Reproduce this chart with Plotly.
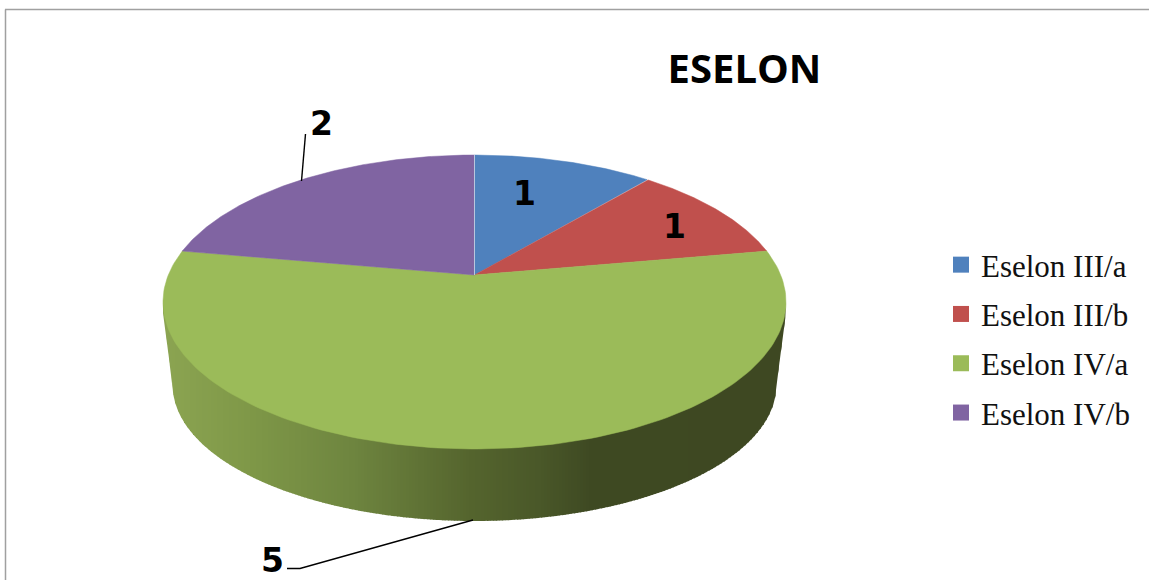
import math
import numpy as np
import plotly.graph_objects as go

# ---- data ----
categories = ["Eselon III/a", "Eselon III/b", "Eselon IV/a", "Eselon IV/b"]
values = [1, 1, 5, 2]
colors = ["#4F81BD", "#C0504D", "#9BBB59", "#8064A2"]
title_text = "ESELON"

# ---- view of the tilted disc (pixel-scaled axes) ----
W, H = 1149, 580
CX, APEX_Y, NEAR, TILT, C = 474.5, 275.0, 91.5, 0.1837, 306.2
BOT_CY, BOT_RY, BOT_RX = 385.0, 136.0, 302.0
TOP_CY, TOP_RY, TOP_RX = 302.0, 147.0, 311.5


def project(theta_deg):
    t = np.radians(theta_deg)
    u, v = np.sin(t), np.cos(t)
    w = 1 + TILT * v
    return CX + C * u / w, (APEX_Y - NEAR * v) / w


def wall_colour(x):
    xs = [163, 250, 350, 470, 540, 590, 786]
    rgb = [(140, 165, 82), (127, 152, 72), (111, 134, 64), (85, 101, 46),
           (74, 88, 41), (63, 74, 35), (62, 72, 34)]
    return "rgb(%d,%d,%d)" % tuple(np.interp(x, xs, [c[i] for c in rgb]) for i in range(3))


def rim_top(x):
    return TOP_CY + TOP_RY * math.sqrt(max(0, 1 - ((x - CX) / TOP_RX) ** 2))


def rim_bottom(x):
    d = abs(x - CX)
    if d <= BOT_RX:
        lo = BOT_CY + BOT_RY * math.sqrt(max(0, 1 - (d / BOT_RX) ** 2))
    else:
        # straight silhouette between the two discs
        f = (d - BOT_RX) / (TOP_RX - BOT_RX)
        lo = BOT_CY + (313 - BOT_CY) * f
    return lo


fig = go.Figure()

# side wall, shaded strip by strip
step = 3
for x0 in np.arange(CX - TOP_RX, CX + TOP_RX, step):
    x1 = min(x0 + step + 0.6, CX + TOP_RX)
    xs_ = np.linspace(x0, x1, 4)
    px = list(xs_) + list(xs_[::-1])
    py = [rim_top(a) - 4 for a in xs_] + [rim_bottom(a) for a in xs_[::-1]]
    fig.add_trace(go.Scatter(x=px, y=py, mode="lines", fill="toself",
                             fillcolor=wall_colour(x0 + step / 2),
                             line=dict(width=0), hoverinfo="skip", showlegend=False))

# top face slices
total = sum(values)
start = 0.0
for name, val, col in zip(categories, values, colors):
    end = start + 360.0 * val / total
    ang = np.linspace(start, end, 160)
    ex, ey = project(ang)
    fig.add_trace(go.Scatter(x=[CX] + list(ex) + [CX], y=[APEX_Y] + list(ey) + [APEX_Y],
                             mode="lines", fill="toself", fillcolor=col,
                             line=dict(color=col, width=0.5), name=name,
                             hovertemplate=f"{name}: {val}<extra></extra>", showlegend=False))
    start = end

# legend entries
for name, col in zip(categories, colors):
    fig.add_trace(go.Scatter(x=[None], y=[None], mode="markers", name=name, legendgroup=name,
                             marker=dict(symbol="square", size=16, color=col)))

sx, sy = project(0.0)
shapes = [
    dict(type="line", xref="x", yref="y", x0=CX, y0=APEX_Y, x1=float(sx), y1=float(sy),
         line=dict(color="#B9C6DE", width=1)),
    # leader lines
    dict(type="line", xref="x", yref="y", x0=305.5, y0=134, x1=301.5, y1=181,
         line=dict(color="#000000", width=1.4)),
    dict(type="path", xref="x", yref="y", path="M 473 520 L 300 568.5 L 287 568.5",
         line=dict(color="#000000", width=1.4)),
    # chart frame
    dict(type="line", xref="x", yref="y", x0=5, y0=9.5, x1=1149, y1=9.5,
         line=dict(color="#A0A0A0", width=1.5)),
    dict(type="line", xref="x", yref="y", x0=5.5, y0=9.5, x1=5.5, y1=580,
         line=dict(color="#A0A0A0", width=1.5)),
]

label_font = dict(family="DejaVu Sans", size=33, color="#000000", weight="bold")
label_pos = [(524, 193), (674, 226), (272, 560), (321, 123)]
annotations = [
    dict(x=px_, y=py_, xref="x", yref="y", text=f"<b>{v}</b>", showarrow=False,
         font=label_font, xanchor="center", yanchor="middle")
    for (px_, py_), v in zip(label_pos, values)
]

fig.update_layout(
    width=W, height=H, margin=dict(l=0, r=0, t=0, b=0),
    paper_bgcolor="#FFFFFF", plot_bgcolor="#FFFFFF",
    xaxis=dict(range=[0, W], visible=False, fixedrange=True),
    yaxis=dict(range=[H, 0], visible=False, fixedrange=True),
    shapes=shapes, annotations=annotations,
    title=dict(text=f"<b>{title_text}</b>", x=744.5 / W, y=1 - 69 / H, xanchor="center",
               yanchor="middle", font=dict(family="Open Sans", size=40, color="#000000")),
    legend=dict(x=941 / W, y=1 - 339 / H, xanchor="left", yanchor="middle",
                font=dict(family="Liberation Serif", size=31, color="#111111"),
                tracegroupgap=6, bgcolor="rgba(0,0,0,0)", itemclick=False, itemdoubleclick=False),
    showlegend=True,
)

fig.write_html("out.html", config={"displayModeBar": False},
               post_script="document.body.style.margin='0';document.documentElement.style.overflow='hidden';")
